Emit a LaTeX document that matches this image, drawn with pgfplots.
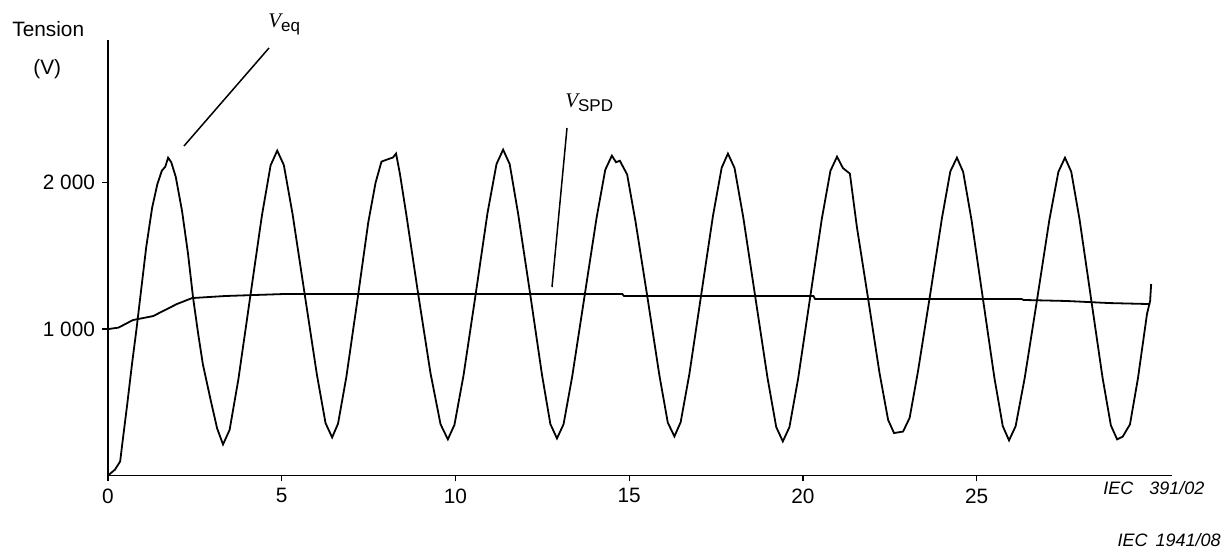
\documentclass[border=0pt]{standalone}
\usepackage{pgfplots}
\pgfplotsset{compat=1.18}
\usepackage{fontspec}
\setmainfont{Liberation Sans}
\newfontfamily\lserif{Liberation Serif}
\begin{document}
\begin{tikzpicture}[x=1pt,y=1pt]
\useasboundingbox (0,0) rectangle (610.5,274.5);
\begin{axis}[
  at={(54pt,36.75pt)}, anchor=south west,
  scale only axis, width=532pt, height=217.75pt,
  xmin=0, xmax=30.62, ymin=0, ymax=2975,
  axis lines=left, axis line style={-, line width=0.7pt},
  xtick={0,5,10,15,20,25}, xticklabels={0,5,10,15,20,25},
  ytick={1000,2000}, yticklabels={1 000,2 000},
  tick align=outside, major tick length=3pt,
  tick style={black, line width=0.7pt},
  ticklabel style={font=\fontsize{10.4}{12}\selectfont},
  cycle list={{black, line width=0.9pt, no marks}},
  clip=false,
]
% V_eq
\addplot[black, line width=0.9pt, no marks] coordinates {
(0,0) (0.2,40) (0.35,96) (0.43,253) (0.55,480) (0.69,760) (0.82,1000) (0.95,1260)
(1.1,1560) (1.27,1829) (1.42,1990) (1.55,2082) (1.65,2110) (1.73,2171) (1.82,2140)
(1.95,2040) (2.13,1808) (2.3,1520) (2.45,1212) (2.6,960) (2.73,760) (2.95,520)
(3.14,322) (3.31,212)
(3.50,312) (3.75,654) (4.09,1216) (4.43,1777) (4.68,2119) (4.87,2219)
(5.06,2121) (5.31,1788) (5.66,1239) (6.01,691) (6.26,358) (6.45,260)
(6.62,354) (6.86,674) (7.18,1202) (7.49,1729) (7.70,2000) (7.87,2144) (8.05,2160) (8.2,2172) (8.29,2199)
(8.40,2062) (8.58,1790) (8.92,1250) (9.28,700) (9.57,350) (9.78,247)
(9.97,346) (10.23,682) (10.58,1237) (10.92,1791) (11.18,2127) (11.37,2226)
(11.56,2127) (11.80,1792) (12.15,1239) (12.49,687) (12.73,352) (12.92,253)
(13.11,350) (13.36,678) (13.71,1219) (14.06,1760) (14.31,2088) (14.50,2185) (14.62,2140) (14.73,2150)
(14.94,2056) (15.18,1736) (15.53,1208) (15.87,681) (16.11,361) (16.30,267)
(16.48,364) (16.73,692) (17.07,1233) (17.41,1774) (17.66,2102) (17.84,2199)
(18.03,2101) (18.28,1766) (18.63,1216) (18.98,666) (19.23,331) (19.42,233)
(19.61,330) (19.86,661) (20.20,1206) (20.54,1750) (20.79,2081) (20.98,2178)
(21.15,2100) (21.35,2062) (21.55,1700) (21.88,1200) (22.2,704) (22.45,380) (22.62,290) (22.75,295) (22.88,300)
(23.07,394) (23.31,712) (23.66,1236) (24.0,1759) (24.24,2077) (24.43,2171)
(24.61,2074) (24.85,1746) (25.18,1205) (25.51,665) (25.75,337) (25.93,240)
(26.12,337) (26.38,665) (26.74,1206) (27.09,1746) (27.35,2074) (27.54,2171)
(27.72,2075) (27.96,1748) (28.29,1209) (28.62,670) (28.86,343) (29.04,247)
(29.2,265) (29.41,349) (29.64,664) (29.90,1103) (29.99,1192) (30.02,1308)
};
% V_SPD
\addplot[black, line width=0.9pt, no marks] coordinates {
(0,1000) (0.3,1010) (0.72,1062) (1.3,1089) (1.98,1171) (2.42,1212) (3.37,1226)
(5.1,1240) (14.8,1240) (14.85,1226) (20.3,1226) (20.35,1205) (26.3,1205)
(26.35,1199) (27.6,1192) (28.8,1178) (29.99,1171)
};
\end{axis}
\draw[line width=0.75pt] (92,201.5) -- (134.5,250.5);
\node[anchor=base west, inner sep=0, font=\fontsize{10.4}{12}\selectfont] at (134,260.5)
  {{\lserif\itshape V}\raisebox{-2pt}{\fontsize{8.5}{10}\selectfont eq}};
\draw[line width=0.75pt] (283.5,210.5) -- (276,131);
\node[anchor=base west, inner sep=0, font=\fontsize{10.4}{12}\selectfont] at (282.5,220.5)
  {{\lserif\itshape V}\raisebox{-2pt}{\fontsize{8.5}{10}\selectfont SPD}};
\node[anchor=base west, inner sep=0, font=\fontsize{10.4}{12}\selectfont] at (6,256) {Tension};
\node[anchor=base west, inner sep=0, font=\fontsize{10.4}{12}\selectfont] at (16.5,237) {(V)};
\node[anchor=base west, inner sep=0, font=\fontsize{9}{11}\selectfont\itshape] at (551.5,27) {IEC\hspace{8pt}391/02};
\node[anchor=base east, inner sep=0, font=\fontsize{9}{11}\selectfont\itshape] at (610.5,1) {IEC\hspace{4pt}1941/08};
\end{tikzpicture}
\end{document}
